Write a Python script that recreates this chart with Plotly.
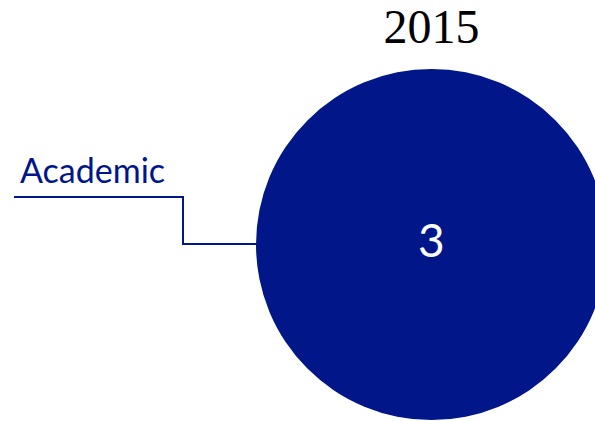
"""Single-slice pie: 2015 publications by sector."""

import plotly.graph_objects as go

year = "2015"
labels = ["Academic"]
values = [3]

NAVY = "#001689"
W, H = 610, 421  # a little wider than the window so the pie is cut at the right


def px(x, y):
    """Pixel position -> paper coords."""
    return x / W, 1 - y / H


fig = go.Figure()

fig.add_trace(
    go.Pie(
        labels=labels, values=values, sort=False,
        textinfo="none",
        marker=dict(colors=[NAVY]),
        domain=dict(x=[256 / W, 607 / W], y=[1 - 420 / H, 1 - 69 / H]),
        showlegend=False, hoverinfo="label+value",
    )
)

# value sits a touch above the centre, as in the original
vx, vy = px(431.5, 239)
fig.add_annotation(
    text=str(values[0]), x=vx, y=vy, xref="paper", yref="paper",
    xanchor="center", yanchor="middle", showarrow=False,
    font=dict(family="Lato", size=46, color="white"),
)

# label with elbow leader line
x0, y0 = px(14, 197)
x1, y1 = px(183, 244)
x2, _ = px(256, 244)
fig.add_shape(
    type="path", xref="paper", yref="paper",
    path=f"M {x0} {y0} L {x1} {y0} L {x1} {y1} L {x2} {y1}",
    line=dict(color=NAVY, width=2),
)
lx, ly = px(18, 169)
fig.add_annotation(
    text=labels[0], x=lx, y=ly, xref="paper", yref="paper",
    xanchor="left", yanchor="middle", showarrow=False,
    font=dict(family="Lato", size=34, color=NAVY),
)

tx, ty = px(431.5, 26)
fig.update_layout(
    title=dict(
        text=year, x=tx, y=ty, xanchor="center", yanchor="middle",
        font=dict(family="Liberation Serif", size=48, color="black"),
    ),
    width=W, height=H,
    margin=dict(l=0, r=0, t=0, b=0),
    paper_bgcolor="white",
)

fig.write_html(
    "out.html",
    config={"displayModeBar": False},
    post_script="document.body.style.margin='0';document.body.style.overflow='hidden';",
)
